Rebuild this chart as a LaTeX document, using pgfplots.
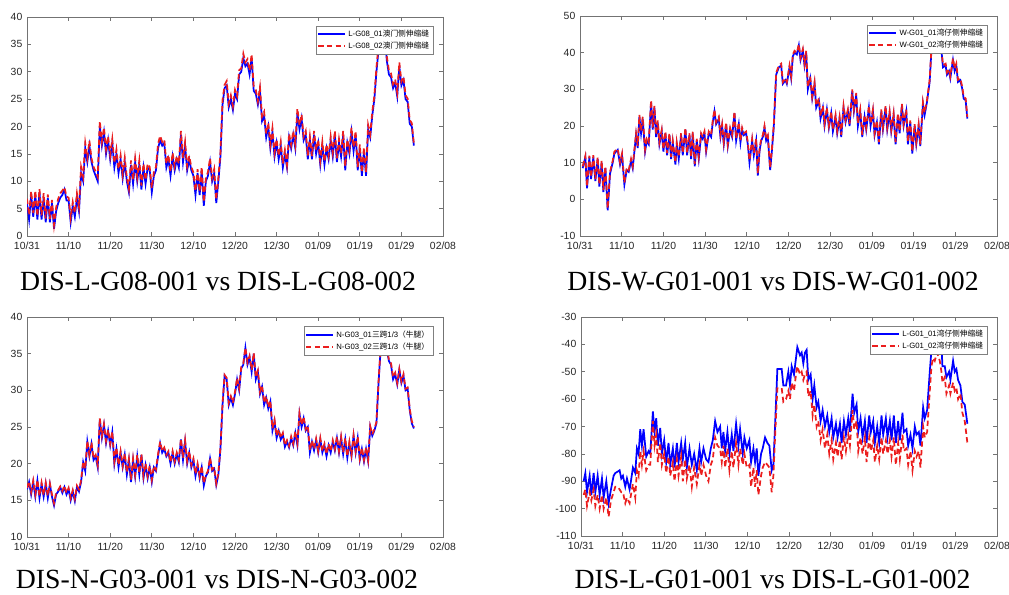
\documentclass[border=0pt]{standalone}
\usepackage{pgfplots}
\pgfplotsset{compat=1.18}
\usepackage{pgfplotstable}
\usepackage{fontspec}
\setmainfont{Liberation Sans}
\newfontfamily\capfont{Liberation Serif}
\newfontfamily\cjk{Noto Sans CJK SC}

\pgfplotstableread{
d b r
0 6 6.8
0.5 3 3.8
1 7.5 8.2
1.5 3.5 4.2
2 7.5 8.3
2.5 3 3.6
3 8 8.6
3.5 3 3.8
4 7 7.8
4.5 2.5 3.2
5 7 7.6
5.5 2.5 3.1
6 6 6.6
6.5 1.3 2.0
7 4.5 5.2
7.5 6 6.8
8 7 7.8
8.5 7.5 8.3
9 8.5 8.9
9.5 6.5 7.2
10 6.5 7.0
10.5 2.5 3.3
11 5.5 6.2
11.5 3.5 4.2
12 7 7.8
12.5 4.5 5.3
13 11.5 12.6
13.5 10 10.8
14 16 17
14.5 13.5 14.3
15 16.5 17.4
15.5 13.5 14.2
16 12 12.6
16.5 11 11.8
17 10 10.8
17.5 20 21
18 16.5 17.2
18.5 19 19.8
19 15 15.8
19.5 17.5 18.2
20 14 14.7
20.5 17 17.7
21 12.5 13.3
21.5 15 15.8
22 11.5 12.2
22.5 14 14.7
23 10.5 11.2
23.5 13.5 14.3
24 10 10.7
24.5 8 8.6
25 13 13.8
25.5 9.5 10.2
26 13.5 14.2
26.5 10 10.7
27 13 13.8
27.5 8.5 9.2
28 12.5 13.2
28.5 9.5 10.2
29 12.5 13.2
29.5 12 12.6
30 8 8.7
30.5 11 11.7
31 12 12.6
31.5 16 16.8
32 17.5 18.3
32.5 16.5 17.2
33 17 17.6
33.5 12.5 13.2
34 14 14.8
34.5 11 11.7
35 14.5 15.2
35.5 12 12.7
36 14 14.6
36.5 12.5 13.2
37 18.5 19.2
37.5 13.5 14.2
38 16.5 17.2
38.5 12 12.7
39 14 14.6
39.5 12 12.6
40 11 11.6
40.5 7.5 8.2
41 11.5 12.2
41.5 7.5 8.1
42 12 12.6
42.5 5.5 6.2
43 10 10.6
43.5 11 11.7
44 13.5 14.2
44.5 10 10.6
45 11.5 12.2
45.5 6 6.6
46 10 10.7
46.5 14.5 15.2
47 24 24.8
47.5 27 27.6
48 27.5 28.3
48.5 23.5 24.2
49 25 25.7
49.5 23 23.7
50 26 26.7
50.5 25 25.6
51 29.5 30.3
51.5 30 30.6
52 32.5 33.3
52.5 31 31.7
53 31.5 32.3
53.5 29.5 30.2
54 32.5 33.2
54.5 26.5 27.3
55 26 26.7
55.5 24 24.6
56 26.5 27.2
56.5 21 21.8
57 22 22.7
57.5 18 18.7
58 20 20.7
58.5 16 16.7
59 19 19.7
59.5 14.5 15.2
60 17 17.7
60.5 14 14.6
61 16.5 17.2
61.5 12.5 13.2
62 15 15.7
62.5 12.5 13
63 18 18.7
63.5 16 16.6
64 18.5 19.2
64.5 16 16.7
65 22.5 23.3
65.5 19.5 20.2
66 21.5 22.2
66.5 17.5 18.2
67 18.5 19.2
67.5 14 14.7
68 17.5 18.2
68.5 14 14.6
69 18.5 19.2
69.5 15 15.7
70 17 17.6
70.5 13 13.7
71 16.5 17.2
71.5 13 13.6
72 16 16.7
72.5 14 14.6
73 17.5 18.2
73.5 14.5 15.2
74 18.5 19.2
74.5 13.5 14.2
75 17 17.7
75.5 14.5 15.1
76 18.5 19.2
76.5 12 12.7
77 17 17.6
77.5 15 15.7
78 19 19.8
78.5 15.5 16.2
79 18.5 19.2
79.5 12 12.6
80 16 16.7
80.5 11 11.6
81 15.5 16.2
81.5 11 11.6
82 19.5 20.3
82.5 18 18.6
83 22 22.7
83.5 25 25.6
84 30 30.8
84.5 34 34.8
85 37 37.6
85.5 37.5 38
86 36.5 37
86.5 32 32.8
87 29.5 30.2
87.5 29 29.7
88 27 27.7
88.5 28 28.6
89 25.5 26.2
89.5 31 31.7
90 27.5 28.2
90.5 28.5 29.1
91 25 25.7
91.5 24.5 25.1
92 20.5 21.2
92.5 20 20.6
93 16.5 16.8
}\tA

\pgfplotstableread{
d b r
0.64 8.5 9
1.28 11.5 11.8
1.68 3 3.5
2.24 11.5 11.9
2.64 5.5 6
3.2 11.5 12
3.68 5 5.5
4.24 11 11.5
4.64 3.5 4
5.2 10 10.6
5.6 2 2.5
6.08 8.5 9
6.64 -3 -2.5
7.2 7 7.5
7.84 10 10.5
8.24 12.5 13
9.04 13.5 13.8
9.6 9.5 10
10.08 12 12.5
10.64 4 4.5
11.2 8 8.6
11.68 7.5 8
12.24 10.5 11
12.64 8.5 9
13.04 13 13.5
13.44 17.5 18
13.84 14 14.6
14.24 22.5 23
14.64 18 18.6
15.04 22 22.5
15.6 13 13.6
16.0 16 16.5
16.48 15 15.6
17.04 26.5 27
17.44 19 19.6
17.84 25 25.5
18.24 17 17.6
18.64 21 21.5
19.04 15 15.6
19.6 18.5 19
20.0 13 13.6
20.48 18 18.5
20.88 12 12.6
21.44 17.5 18
21.84 11 11.6
22.24 15.5 16
22.88 9.5 10
23.2 15 15.5
23.68 11 11.6
24.24 17.5 18
24.64 12 12.6
25.28 19 19.5
25.68 12 12.6
26.24 17.5 18
26.64 11 11.6
27.04 18 18.5
27.52 9 9.6
28.0 16 16.5
28.48 11 11.6
29.04 17.5 18
29.44 16.5 17
29.84 18 18.5
30.24 13 13.6
30.88 18 18.5
31.44 17 17.6
31.84 21 21.5
32.24 24 24.5
32.64 20.5 21
33.28 22 22.5
33.68 17 17.6
34.08 20 20.5
34.48 15 15.6
35.04 20.5 21
35.44 14.5 15
36.0 19 19.5
36.48 17 17.6
37.04 23.5 24
37.44 16 16.6
38.08 20.5 21
38.48 15.5 16
38.88 19 19.5
39.28 17.5 18
39.84 18 18.5
40.24 15 15.6
40.64 10 10.6
41.28 16 16.5
41.68 12 12.6
42.24 16 16.5
42.64 6.5 7
43.04 13 13.6
43.44 16 16.5
43.84 17 17.5
44.24 19.5 20
44.64 16 16.6
45.04 17 17.5
45.6 8 8.6
46.0 13 13.6
46.48 20 20.5
47.04 34 34.5
47.68 36 36.5
48.24 36.5 37
48.64 31.5 32
49.28 32.5 33
49.6 31.5 32
50.24 36 36.5
50.64 33 33.6
51.04 39 39.5
51.44 40 40.5
52.0 39.5 40
52.48 42 42.3
52.88 38 38.6
53.44 40.5 41
53.84 36.5 37
54.24 40 40.5
54.64 30 30.6
55.2 33 33.5
55.68 27.5 28
56.24 31.5 32
56.64 25 25.6
57.28 27 27.5
57.68 22 22.6
58.24 25 25.5
58.64 20 20.6
59.2 24.5 25
59.68 19.5 20
60.24 23.5 24
60.64 18.5 19
61.28 22.5 23
61.68 18 18.6
62.24 22 22.5
62.64 17 17.6
63.2 25 25.5
63.68 21 21.6
64.24 24 24.5
64.64 20 20.6
65.28 29.5 30
65.68 24 24.6
66.24 28.5 29
66.64 20 20.6
67.2 24 24.5
67.68 17 17.6
68.24 22.5 23
68.64 19 19.6
69.28 25 25.5
69.68 20 20.6
70.24 24 24.5
70.64 17.5 18
71.2 21 21.5
71.68 15 15.6
72.24 24 24.5
72.64 19 19.6
73.28 25 25.5
73.68 19 19.6
74.24 23.5 24
74.64 18.5 19
75.2 23 23.5
75.68 15 15.6
76.24 23 23.5
76.64 18 18.6
77.2 25.5 26
77.6 20 20.6
78.24 24 24.5
78.64 15 15.6
79.2 21 21.5
79.68 12.5 13
80.24 20 20.5
80.64 15 15.6
81.2 20 20.5
81.6 14.5 15
82.24 26 26.5
82.64 23 23.6
83.2 26.5 27
83.84 32 32.5
84.24 40 40.5
84.64 45 45.5
85.44 46 46.5
86.24 45 45.5
86.64 41 41.5
87.04 36 36.6
87.68 36.5 37
88.0 34 34.6
88.48 35 35.5
88.8 33 33.6
89.44 38 38.5
89.84 35 35.6
90.24 36.5 37
90.64 32 32.6
91.2 32.5 33
91.68 30 30.6
92.0 27.5 28
92.48 27 27.5
92.88 22 22.5
}\tB

\pgfplotstableread{
d b r
0 16.5 16.7
0.5 17.5 17.6
1 15.8 16.1
1.5 17.5 17.7
2 15.5 15.8
2.5 17.7 17.8
3 15.3 15.6
3.5 17.2 17.4
4 15.5 15.7
4.5 17.3 17.4
5 15.3 15.6
5.5 17.2 17.3
6 15.5 15.8
6.5 14.3 14.6
7 15.8 16
7.5 16.2 16.4
8 16.8 16.9
8.5 16 16.3
9 16.8 17
9.5 15.8 16
10 16.5 16.7
10.5 15 15.3
11 16.2 16.4
11.5 14.9 15.2
12 16.8 17
12.5 16.2 16.5
13 17.5 17.7
13.5 20.2 20.3
14 19 19.3
14.5 23 23.1
15 21 21.2
15.5 22.7 22.9
16 20.5 20.7
16.5 21 21.2
17 19.5 19.8
17.5 26 26.2
18 23.5 23.8
18.5 25.3 25.4
19 22.8 23.1
19.5 24.5 24.6
20 22.5 22.7
20.5 24.3 24.4
21 20 20.3
21.5 22 22.2
22 19.5 19.8
22.5 21.5 21.7
23 19.5 19.7
23.5 21.2 21.4
24 18.5 18.8
24.5 20.5 20.7
25 17.5 17.8
25.5 20.5 20.7
26 18.2 18.5
26.5 21 21.2
27 18.5 18.7
27.5 21.2 21.3
28 18 18.3
28.5 19.8 20
29 18 18.3
29.5 19.5 19.7
30 17.5 17.8
30.5 19.5 19.7
31 19 19.2
31.5 21 21.3
32 22.8 23
32.5 21.5 21.7
33 22 22.2
33.5 21 21.2
34 21.5 21.7
34.5 20 20.2
35 21.5 21.7
35.5 20 20.3
36 21.3 21.5
36.5 20.2 20.5
37 23.3 23.4
37.5 20.5 20.8
38 23 23.2
38.5 20 20.3
39 21.5 21.7
39.5 19.5 19.8
40 20.5 20.7
40.5 18.3 18.6
41 19.8 20
41.5 18 18.3
42 19.5 19.7
42.5 17 17.3
43 18.3 18.5
43.5 18.8 19
44 20.7 20.8
44.5 19 19.2
45 19.3 19.5
45.5 17.1 17.3
46 18.5 18.7
46.5 22 22.2
47 28 28.2
47.5 32 32.1
48 31.5 31.7
48.5 28 28.3
49 29 29.2
49.5 28 28.3
50 29.5 29.8
50.5 31.5 31.7
51 30 30.3
51.5 33 33.2
52 33.5 33.7
52.5 35.8 35.8
53 33.5 33.8
53.5 34.5 34.7
54 32.5 32.8
54.5 35 35.1
55 31.5 31.8
55.5 32.5 32.7
56 29.5 29.8
56.5 30.5 30.7
57 28 28.3
57.5 29 29.2
58 27.5 27.7
58.5 28.5 28.6
59 24.5 24.8
59.5 25.8 26
60 23.5 23.8
60.5 24.5 24.7
61 23.3 23.5
61.5 24 24.2
62 22.3 22.5
62.5 23 23.2
63 22.2 22.4
63.5 23.5 23.7
64 22.5 22.7
64.5 24.2 24.4
65 22.5 22.8
65.5 26.8 26.9
66 25 25.3
66.5 26.2 26.4
67 24.5 24.7
67.5 25 25.2
68 21.5 21.8
68.5 23 23.2
69 21.8 22
69.5 23.2 23.4
70 21.5 21.7
70.5 23.3 23.5
71 21.5 21.7
71.5 22.5 22.7
72 21 21.3
72.5 22.5 22.7
73 21.5 21.7
73.5 23 23.2
74 21.8 22
74.5 23.5 23.7
75 21.5 21.7
75.5 23.5 23.7
76 21.3 21.5
76.5 23.3 23.5
77 20.8 21
77.5 22.8 23
78 21 21.2
78.5 23.8 23.9
79 21.5 21.7
79.5 23.5 23.7
80 20.5 20.7
80.5 22 22.2
81 20.3 20.5
81.5 22 22.2
82 20.3 20.5
82.5 25 25.1
83 23.8 24
83.5 24.5 24.7
84 25.5 25.7
84.5 31 31.2
85 35.5 35.7
85.5 37.5 37.6
86 37 37.1
86.5 35.5 35.7
87 34 34.2
87.5 33.5 33.7
88 31.5 31.8
88.5 32.2 32.4
89 30.8 31
89.5 32.8 32.9
90 31 31.2
90.5 32 32.2
91 30 30.2
91.5 30.2 30.4
92 27.3 27.5
92.5 25.5 25.8
93 24.8 25
}\tC

\pgfplotstableread{
d b r
0.64 -90 -95
1.04 -87 -93
1.44 -94 -99
2.08 -88 -94
2.48 -95 -97
3.04 -87 -93
3.44 -94 -99
4.0 -88 -95
4.48 -95 -100
5.04 -89 -95
5.44 -96 -100
6.08 -90 -96
6.64 -98 -103
7.2 -93 -97
7.84 -88 -94
8.24 -87 -92
8.8 -86.5 -92
9.28 -86 -93
9.68 -89 -94
10.08 -88 -94
10.64 -92 -98
11.04 -89 -96
11.68 -93 -98
12.0 -90 -95
12.48 -85 -91
13.04 -87 -96
13.44 -78 -86
13.84 -80 -88
14.24 -71 -79
14.64 -77 -84
15.04 -71 -79
15.68 -81 -86
16.24 -79 -84
16.64 -80 -84
17.28 -64.5 -68
17.68 -72 -77
18.08 -67 -73
18.48 -77 -83
19.04 -70.5 -76
19.44 -80 -84
20.0 -75 -80
20.48 -83 -87
21.04 -76 -81
21.44 -84 -88
22.08 -78 -83
22.48 -85 -90
23.04 -76 -82
23.44 -83 -88
24.08 -76 -81
24.48 -82 -90
25.04 -76 -82
25.44 -85 -89
26.08 -78 -84
26.64 -84 -92
27.2 -80 -85
27.84 -86 -91
28.48 -78 -84
28.88 -83 -88
29.44 -78 -84
30.08 -82 -88
30.64 -83 -90
31.2 -78 -84
31.68 -75 -82
32.24 -68 -74
32.8 -72 -77
33.44 -70 -78
33.84 -78 -83
34.24 -72 -77
34.64 -79 -85
35.2 -72 -78
35.68 -80 -86
36.24 -73 -79
36.64 -79 -85
37.28 -69 -76
37.84 -77 -84
38.24 -71 -78
38.88 -80 -84
39.28 -74 -80
39.84 -78 -85
40.48 -75 -84
40.88 -83 -92
41.44 -78 -85
41.84 -83 -92
42.24 -78 -86
42.64 -88 -95
43.28 -80 -88
43.68 -78 -85
44.24 -74 -83
44.8 -76 -84
45.28 -77 -85
45.84 -86 -94
46.24 -84 -88
46.64 -70 -74
47.2 -49 -56
47.84 -49 -56
48.24 -49 -56
48.64 -55 -61
49.28 -55 -60
49.84 -50 -57
50.24 -55 -60
50.64 -48 -54
51.2 -51 -57
51.68 -45 -51
52.0 -41 -48
52.64 -44 -51
53.04 -43 -50
53.44 -47 -53
53.84 -43 -51
54.24 -42 -50
54.64 -53 -59
55.2 -51 -57
55.68 -60 -66
56.08 -55 -62
56.64 -63 -70
57.04 -61 -68
57.6 -68 -75
58.08 -64 -71
58.64 -70 -78
59.2 -66 -73
59.68 -72 -80
60.24 -67 -75
60.64 -74 -82
61.28 -69 -76
61.68 -74 -81
62.24 -69 -75
62.64 -76 -82
63.2 -68 -74
63.68 -73 -79
64.24 -67 -73
64.64 -72 -77
65.28 -58 -64
65.68 -65 -71
66.24 -62 -68
66.64 -72 -79
67.2 -67 -74
67.68 -74 -80
68.24 -68 -74
68.64 -76 -83
69.28 -66 -74
69.68 -72 -79
70.24 -68 -75
70.64 -76 -83
71.2 -70 -77
71.68 -76 -82
72.24 -66 -74
72.64 -73 -80
73.28 -67 -75
73.68 -74 -80
74.24 -68 -75
74.64 -75 -81
75.2 -66 -74
75.68 -76 -84
76.24 -68 -76
76.64 -75 -82
77.28 -65 -73
77.6 -72 -79
78.24 -71 -78
78.64 -77 -84
79.2 -73 -79
79.68 -78 -86
80.24 -70 -79
80.64 -73 -81
81.2 -72 -79
81.6 -77 -85
82.24 -63 -70
82.64 -67 -74
83.2 -64 -72
83.84 -50 -57
84.24 -42 -48
84.64 -38 -45
85.04 -37 -46
85.6 -37 -43
86.24 -38 -46
86.64 -40 -50
86.88 -48 -54
87.44 -48 -52
87.84 -52 -58
88.48 -50 -55
88.8 -53 -58
89.44 -46 -54
89.84 -50 -57
90.24 -49 -56
90.64 -53 -60
91.2 -55 -58
91.68 -61 -65
92.24 -62 -68
92.88 -69 -76
}\tD

\pgfplotsset{
  myax/.style={
    scale only axis,
    anchor=south west,
    xmin=0, xmax=100,
    xtick={0,10,...,100},
    xticklabels={10/31,11/10,11/20,11/30,12/10,12/20,12/30,01/09,01/19,01/29,02/08},
    tick align=inside,
    tick pos=both,
    axis line style={black!55, line width=0.5pt},
    major tick style={black!55, line width=0.5pt},
    major tick length=3pt,
    tick label style={font=\fontsize{7.8}{9}\selectfont, text=black!85},
    xticklabel style={yshift=-1pt},
    /pgf/number format/assume math mode=true,
    legend style={at={(0.977,0.96)}, anchor=north east,
      font=\fontsize{5.8}{6.5}\selectfont, draw=black!50, fill=white,
      inner sep=1pt, row sep=-1.5pt, cells={anchor=west}},
    legend image code/.code={\draw[##1] (0pt,0pt) -- (20pt,0pt);},
  },
  bl/.style={color={rgb,255:red,0;green,0;blue,255}, line width=1.3pt},
  rd/.style={color={rgb,255:red,235;green,30;blue,30}, line width=1.3pt, dash pattern=on 4pt off 2.5pt},
}

\begin{document}
\begin{tikzpicture}
\begin{axis}[myax, at={(20.25pt,269.25pt)}, width=312pt, height=164.25pt,
  ymin=0, ymax=40, ytick={0,5,...,40}, yticklabels={0,5,10,15,20,25,30,35,40}]
\addplot[bl] table[x=d,y=b]{\tA};
\addplot[rd] table[x=d,y=r]{\tA};
\addlegendentry{L-G08\_01{\cjk 澳门侧伸缩缝}}
\addlegendentry{L-G08\_02{\cjk 澳门侧伸缩缝}}
\end{axis}

\begin{axis}[myax, at={(435pt,269.25pt)}, width=312.75pt, height=165pt,
  ymin=-10, ymax=50, ytick={-10,0,...,50}, yticklabels={-10,0,10,20,30,40,50}]
\addplot[bl] table[x=d,y=b]{\tB};
\addplot[rd] table[x=d,y=r]{\tB};
\addlegendentry{W-G01\_01{\cjk 湾仔侧伸缩缝}}
\addlegendentry{W-G01\_02{\cjk 湾仔侧伸缩缝}}
\end{axis}

\begin{axis}[myax, at={(20.25pt,43.5pt)}, width=312pt, height=165pt,
  ymin=10, ymax=40, ytick={10,15,...,40}, yticklabels={10,15,20,25,30,35,40},
  legend style={at={(0.977,0.957)}}]
\addplot[bl] table[x=d,y=b]{\tC};
\addplot[rd] table[x=d,y=r]{\tC};
\addlegendentry{N-G03\_01{\cjk 三跨}1/3{\cjk （牛腿）}}
\addlegendentry{N-G03\_02{\cjk 三跨}1/3{\cjk （牛腿）}}
\end{axis}

\begin{axis}[myax, at={(435.75pt,44.25pt)}, width=312pt, height=164.25pt,
  ymin=-110, ymax=-30, ytick={-110,-100,...,-30}, yticklabels={-110,-100,-90,-80,-70,-60,-50,-40,-30}]
\addplot[bl] table[x=d,y=b]{\tD};
\addplot[rd] table[x=d,y=r]{\tD};
\addlegendentry{L-G01\_01{\cjk 湾仔侧伸缩缝}}
\addlegendentry{L-G01\_02{\cjk 湾仔侧伸缩缝}}
\end{axis}

\node[anchor=base, font=\capfont\fontsize{20.8}{24}\selectfont] at (163.5pt,228pt) {DIS-L-G08-001 vs DIS-L-G08-002};
\node[anchor=base, font=\capfont\fontsize{20.8}{24}\selectfont] at (579.75pt,228pt) {DIS-W-G01-001 vs DIS-W-G01-002};
\node[anchor=base, font=\capfont\fontsize{20.8}{24}\selectfont] at (162.75pt,4.6pt) {DIS-N-G03-001 vs DIS-N-G03-002};
\node[anchor=base, font=\capfont\fontsize{20.8}{24}\selectfont] at (579.4pt,4.6pt) {DIS-L-G01-001 vs DIS-L-G01-002};

\pgfresetboundingbox
\path[use as bounding box] (0,0) rectangle (756.75pt,446.25pt);
\end{tikzpicture}
\end{document}
